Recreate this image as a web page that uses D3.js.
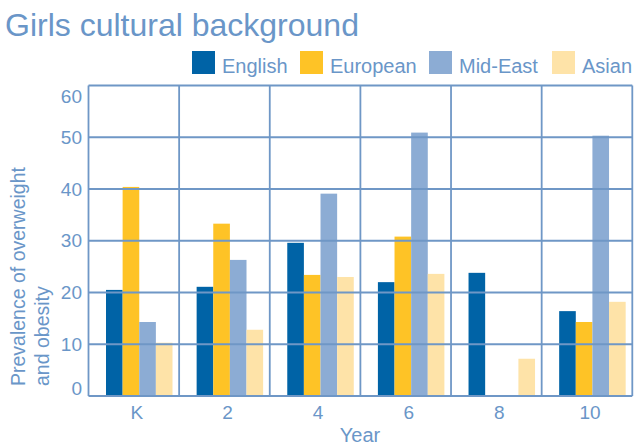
<!DOCTYPE html>
<html>
<head>
<meta charset="utf-8">
<script src="https://cdn.jsdelivr.net/npm/d3@7"></script>
<style>
  body { margin: 0; background: #fff; }
  text { font-family: "Liberation Sans", Arial, sans-serif; fill: #6a96c8; }
</style>
</head>
<body>
<div id="chart"></div>
<script>
// Données
const years = ["K", "2", "4", "6", "8", "10"];
const groups = ["English", "European", "Mid-East", "Asian"];
const english = [20.5, 21.1, 29.6, 22.0, 23.8, 16.4];
const european = [40.4, 33.3, 23.4, 30.8, null, 14.3];
const midEast = [14.3, 26.3, 39.1, 50.9, null, 50.3];
const asian = [10.3, 12.8, 23.0, 23.6, 7.2, 18.2];
const yTicks = [0, 10, 20, 30, 40, 50, 60];
const colors = ["#0063a6", "#fec326", "#8cacd4", "#fee3a8"];

const width = 638;
const height = 444;
const grid = "#6f97c6";

const svg = d3.select("#chart").append("svg")
  .attr("width", width)
  .attr("height", height);

// Échelles
const x0 = d3.scaleBand().domain(years).range([88.5, 632.3]);
const x1 = d3.scaleBand().domain(groups).range([17.5, 84]);
const y = d3.scaleLinear().domain([0, 60]).range([396, 85.5]);
const color = d3.scaleOrdinal().domain(groups).range(colors);

const rows = years.map((yr, i) => ({
  year: yr,
  values: [english[i], european[i], midEast[i], asian[i]]
}));

// Titre
svg.append("text")
  .attr("x", 5)
  .attr("y", 36)
  .style("font-size", "32px")
  .text("Girls cultural background");

// Légende
const legendX = [192, 300, 429, 552];
const legend = svg.selectAll(".legend")
  .data(groups)
  .join("g")
  .attr("transform", (d, i) => `translate(${legendX[i]},51)`);
legend.append("rect")
  .attr("width", 23)
  .attr("height", 23)
  .attr("fill", d => color(d));
legend.append("text")
  .attr("x", 30)
  .attr("y", 22)
  .style("font-size", "20px")
  .text(d => d);

// Barres
const g = svg.selectAll(".year")
  .data(rows)
  .join("g")
  .attr("transform", d => `translate(${x0(d.year)},0)`);
g.selectAll("rect")
  .data(d => d.values.map((v, i) => ({ key: groups[i], value: v })).filter(d => d.value != null))
  .join("rect")
  .attr("x", d => x1(d.key))
  .attr("width", x1.bandwidth())
  .attr("y", d => y(d.value))
  .attr("height", d => y(0) - y(d.value))
  .attr("fill", d => color(d.key));

// Grille
const gridG = svg.append("g")
  .attr("stroke", grid)
  .attr("stroke-width", 1.8)
  .attr("fill", "none");
gridG.selectAll(".hl")
  .data(yTicks)
  .join("line")
  .attr("x1", x0.range()[0])
  .attr("x2", x0.range()[1])
  .attr("y1", d => y(d))
  .attr("y2", d => y(d));
gridG.selectAll(".vl")
  .data(years.map(d => x0(d)).concat([x0.range()[1]]))
  .join("line")
  .attr("x1", d => d)
  .attr("x2", d => d)
  .attr("y1", y(60))
  .attr("y2", y(0));

// Étiquettes de l'axe Y
svg.selectAll(".ylab")
  .data(yTicks)
  .join("text")
  .attr("x", 82)
  .attr("y", d => Math.min(Math.max(y(d), 96.5), 388))
  .attr("dy", "0.35em")
  .attr("text-anchor", "end")
  .style("font-size", "19px")
  .text(d => d);

// Étiquettes de l'axe X
svg.selectAll(".xlab")
  .data(years)
  .join("text")
  .attr("x", d => x0(d) + x0.bandwidth() / 2 + 3)
  .attr("y", 419)
  .attr("text-anchor", "middle")
  .style("font-size", "19px")
  .text(d => d);

// Titres des axes
svg.append("text")
  .attr("x", 360)
  .attr("y", 441.5)
  .attr("text-anchor", "middle")
  .style("font-size", "20px")
  .text("Year");

const yt = svg.append("text")
  .attr("transform", "translate(25,386) rotate(-90)")
  .style("font-size", "19.5px");
yt.append("tspan").attr("x", 0).attr("y", 0).text("Prevalence of overweight");
yt.append("tspan").attr("x", 0).attr("y", 23.5).text("and obesity");
</script>
</body>
</html>
